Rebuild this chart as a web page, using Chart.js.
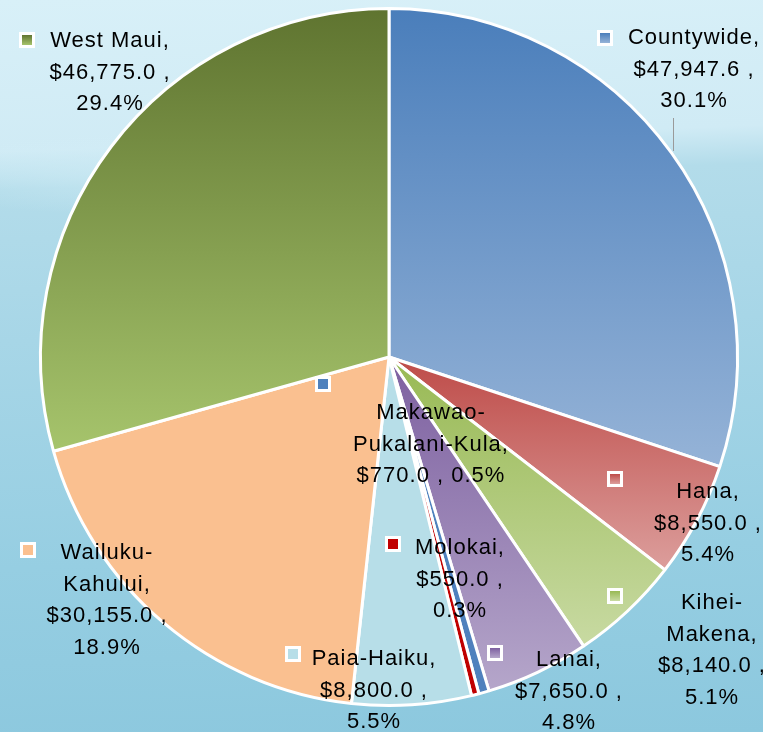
<!DOCTYPE html>
<html><head><meta charset="utf-8">
<script src="https://cdn.jsdelivr.net/npm/chart.js@4.4.0/dist/chart.umd.min.js"></script>
<style>
html,body{margin:0;padding:0;}
body{width:763px;height:732px;overflow:hidden;
background:
 radial-gradient(ellipse 420px 60px at 180px 175px, rgba(214,240,248,0.55), rgba(214,240,248,0) 70%),
 linear-gradient(178deg, #d8f0f8 0%, #d0ebf5 20%, #b3dcea 25%, #a7d6e7 45%, #96cee2 75%, #8cc8de 100%);}
#wrap{position:relative;width:763px;height:732px;}
</style></head><body>
<div id="wrap"><canvas id="c" width="763" height="732"></canvas></div>
<script>
// ---- data ----
const categories = ["Countywide","Hana","Kihei-Makena","Lanai","Makawao-Pukalani-Kula","Molokai","Paia-Haiku","Wailuku-Kahului","West Maui"];
const amounts = [47947.6, 8550.0, 8140.0, 7650.0, 770.0, 550.0, 8800.0, 30155.0, 46775.0];
// label text wrapping (text content only)
const nameLines = [["Countywide,"],["Hana,"],["Kihei-","Makena,"],["Lanai,"],["Makawao-","Pukalani-Kula,"],["Molokai,"],["Paia-Haiku,"],["Wailuku-","Kahului,"],["West Maui,"]];
const valuePctSameLine = [false,false,false,false,true,false,false,false,false];

// ---- styles ----
const gradTop    = ["#4a7ebb","#be4b48","#98b954","#7d60a0","#4f81bd","#c00000","#b7dee8","#fac090","#5f7430"];
const gradBottom = ["#95b3d7","#dc9e9c","#c8daa2","#b5a6ca","#4f81bd","#c00000","#b7dee8","#fac090","#a6c46c"];
// label placement offsets from pie centre (text centre / first line, key square centre)
const labelPlace = [
 {tx:305,ty:-319,kx:216,ky:-319},
 {tx:319,ty:135,kx:226,ky:122},
 {tx:323,ty:246,kx:226,ky:239},
 {tx:180,ty:303,kx:106,ky:296},
 {tx:42,ty:56,kx:-66,ky:27},
 {tx:71,ty:191,kx:4,ky:187},
 {tx:-15,ty:302,kx:-96,ky:297},
 {tx:-282,ty:196,kx:-361,ky:193},
 {tx:-279,ty:-316,kx:-362,ky:-317}
];

const total = amounts.reduce((a,b)=>a+b,0);
function fmtMoney(v){return "$"+v.toLocaleString("en-US",{minimumFractionDigits:1,maximumFractionDigits:1})+" ,";}
function fmtPct(v){return (v/total*100).toFixed(1)+"%";}

function arcBBox(arc){
  let minY=arc.y,maxY=arc.y;
  const n=60;
  for(let i=0;i<=n;i++){
    const a=arc.startAngle+(arc.endAngle-arc.startAngle)*i/n;
    const y=arc.y+Math.sin(a)*arc.outerRadius;
    minY=Math.min(minY,y);maxY=Math.max(maxY,y);
  }
  return {minY,maxY};
}

const gradientPlugin = {
  id:'grad',
  beforeDatasetsDraw(chart){
    const ctx=chart.ctx;
    const meta=chart.getDatasetMeta(0);
    meta.data.forEach((arc,i)=>{
      const b=arcBBox(arc);
      const g=ctx.createLinearGradient(0,b.minY,0,Math.max(b.maxY,b.minY+1));
      g.addColorStop(0,gradTop[i]);g.addColorStop(1,gradBottom[i]);
      arc.options.backgroundColor=g;
    });
  }
};

const labelPlugin = {
  id:'labels',
  afterDatasetsDraw(chart){
    const ctx=chart.ctx;
    const meta=chart.getDatasetMeta(0);
    const cx=meta.data[0].x, cy=meta.data[0].y;
    ctx.save();
    // leader line for Countywide
    ctx.strokeStyle="#9a9a9a";ctx.lineWidth=1;
    ctx.beginPath();ctx.moveTo(cx+284.5,cy-239);ctx.lineTo(cx+284.5,cy-206);ctx.stroke();
    ctx.font="22px 'Liberation Sans', Arial, sans-serif";
    ctx.letterSpacing="1px";
    ctx.fillStyle="#000";ctx.textAlign="center";ctx.textBaseline="middle";
    const lh=31.5;
    categories.forEach((c,i)=>{
      const p=labelPlace[i];
      const lines=nameLines[i].slice();
      if(valuePctSameLine[i]) lines.push(fmtMoney(amounts[i])+" "+fmtPct(amounts[i]));
      else {lines.push(fmtMoney(amounts[i]));lines.push(fmtPct(amounts[i]));}
      ctx.fillStyle="#000";
      lines.forEach((t,j)=>ctx.fillText(t,cx+p.tx,cy+p.ty+j*lh));
      // key square
      const kx=cx+p.kx, ky=cy+p.ky;
      ctx.fillStyle="#ffffff";ctx.fillRect(kx-8,ky-8,16,16);
      const g=ctx.createLinearGradient(0,ky-5,0,ky+5);
      g.addColorStop(0,gradTop[i]);g.addColorStop(1,gradBottom[i]);
      ctx.fillStyle=g;ctx.fillRect(kx-5,ky-5,10,10);
    });
    ctx.restore();
  }
};

new Chart(document.getElementById('c'),{
  type:'pie',
  data:{labels:categories,datasets:[{data:amounts,backgroundColor:gradTop,borderColor:"#ffffff",borderWidth:3}]},
  options:{
    responsive:false,animation:false,
    layout:{padding:{top:7,bottom:25,left:30,right:15}},
    plugins:{legend:{display:false},tooltip:{enabled:false}}
  },
  plugins:[gradientPlugin,labelPlugin]
});
</script>
</body></html>
